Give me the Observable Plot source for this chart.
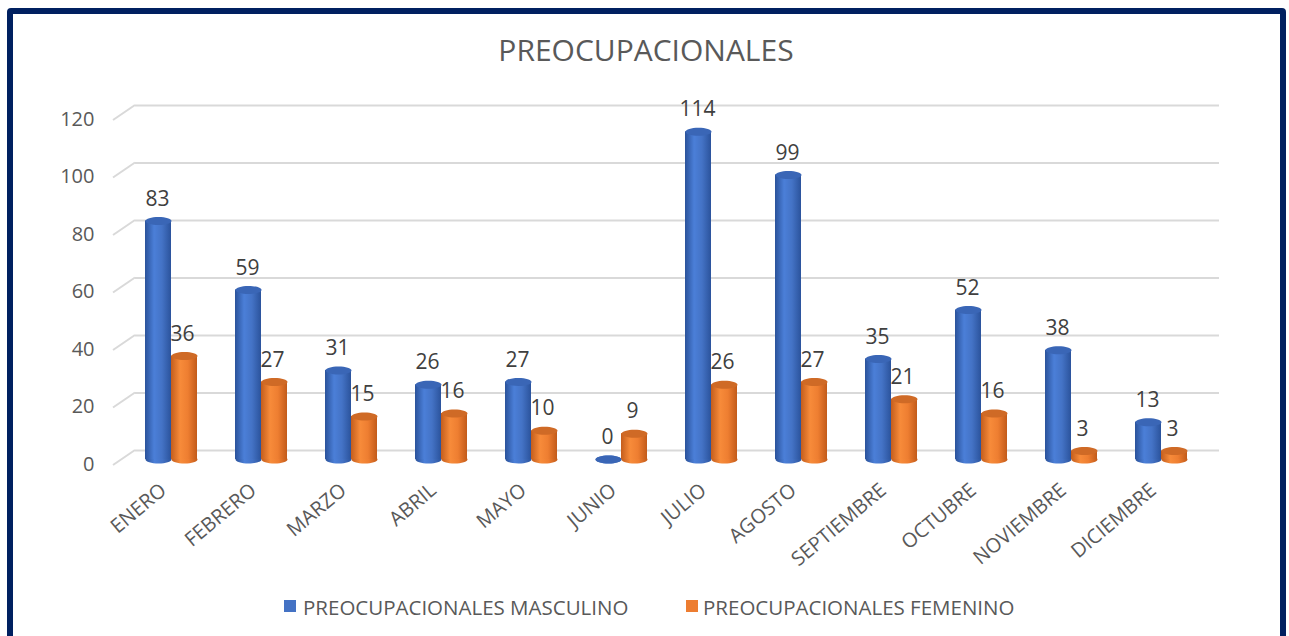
<!DOCTYPE html>
<html><head><meta charset="utf-8">
<script src="https://cdn.jsdelivr.net/npm/d3@7"></script>
<script src="https://cdn.jsdelivr.net/npm/@observablehq/plot@0.6"></script>
<style>
html,body{margin:0;padding:0;background:#fff;}
#wrap{position:relative;width:1289px;height:636px;overflow:hidden;font-family:"Open Sans",sans-serif;}
#frame{position:absolute;left:7px;top:8px;width:1279px;height:680px;border:6px solid #002060;box-sizing:border-box;border-radius:4px;}
#chart{position:absolute;left:0;top:0;}
#title{position:absolute;left:0;top:35px;width:1292px;text-align:center;font-size:30px;line-height:1;color:#595959;}
.lg-sq{position:absolute;width:12px;height:12px;top:600px;}
.lg-tx{position:absolute;top:597px;font-size:20.5px;line-height:1;color:#595959;white-space:nowrap;}
</style>
</head><body>
<svg width="0" height="0" style="position:absolute">
  <defs>
    <linearGradient id="gBlue" x1="0" x2="1" y1="0" y2="0">
      <stop offset="0" stop-color="#2a529a"/>
      <stop offset="0.35" stop-color="#4b7fd8"/>
      <stop offset="0.65" stop-color="#4473c6"/>
      <stop offset="1" stop-color="#2b539c"/>
    </linearGradient>
    <linearGradient id="gOrange" x1="0" x2="1" y1="0" y2="0">
      <stop offset="0" stop-color="#c45d1c"/>
      <stop offset="0.35" stop-color="#f78b3a"/>
      <stop offset="0.65" stop-color="#ee7e31"/>
      <stop offset="1" stop-color="#c25b1a"/>
    </linearGradient>
  </defs>
</svg>
<div id="wrap">
  <div id="chart"></div>
  <div id="frame"></div>
  <div id="title">PREOCUPACIONALES</div>
  <div class="lg-sq" style="left:284px;background:#4472c4"></div>
  <div class="lg-tx" style="left:303px">PREOCUPACIONALES MASCULINO</div>
  <div class="lg-sq" style="left:686px;background:#ed7d31"></div>
  <div class="lg-tx" style="left:703px">PREOCUPACIONALES FEMENINO</div>
</div>
<script>
const months = ["ENERO","FEBRERO","MARZO","ABRIL","MAYO","JUNIO","JULIO","AGOSTO","SEPTIEMBRE","OCTUBRE","NOVIEMBRE","DICIEMBRE"];
const masculino = [83,59,31,26,27,0,114,99,35,52,38,13];
const femenino = [36,27,15,16,10,9,26,27,21,16,3,3];
const yTicks = [0,20,40,60,80,100,120];

const rowsM = months.map((m, i) => ({month: m, value: masculino[i]}));
const rowsF = months.map((m, i) => ({month: m, value: femenino[i]}));

const ellipse = {
  draw(ctx) {
    const rx = 13, ry = 4, k = 0.5523;
    ctx.moveTo(rx, 0);
    ctx.bezierCurveTo(rx, ry * k, rx * k, ry, 0, ry);
    ctx.bezierCurveTo(-rx * k, ry, -rx, ry * k, -rx, 0);
    ctx.bezierCurveTo(-rx, -ry * k, -rx * k, -ry, 0, -ry);
    ctx.bezierCurveTo(rx * k, -ry, rx, -ry * k, rx, 0);
    ctx.closePath();
  }
};

function depthTicks(index, scales, values, dims) {
  const g = d3.create("svg:g");
  for (const t of yTicks) {
    const y = scales.y(t);
    g.append("line")
      .attr("x1", dims.marginLeft - 11).attr("x2", dims.marginLeft + 11)
      .attr("y1", y + 6).attr("y2", y - 9)
      .attr("stroke", "#d9d9d9").attr("stroke-width", 2);
  }
  return g.node();
}

function cylinder(rows, grad, cap, side) {
  const off = side * 13;
  return [
    Plot.dot(rows, {x: "month", y: () => 0, symbol: ellipse, r: 5, fill: grad, stroke: "none", dx: off}),
    Plot.barY(rows, {x: "month", y: "value", fill: grad,
      insetLeft: side < 0 ? 0 : 26, insetRight: side < 0 ? 26 : 0}),
    Plot.dot(rows, {x: "month", y: "value", symbol: ellipse, r: 5, fill: cap, stroke: "none", dx: off})
  ];
}

const chart = Plot.plot({
  width: 1289,
  height: 636,
  marginLeft: 124,
  marginRight: 81,
  marginTop: 114,
  marginBottom: 177,
  style: {fontFamily: "'Open Sans', sans-serif", background: "transparent"},
  x: {type: "band", domain: months, paddingInner: 0.4245, paddingOuter: 0.2122, label: null},
  y: {domain: [0, 120], label: null},
  marks: [
    Plot.ruleY(yTicks, {stroke: "#d9d9d9", strokeWidth: 2, dx: 11, dy: -9}),
    depthTicks,
    Plot.axisY({ticks: yTicks, tickSize: 0, tickPadding: 30, dy: 5, fontSize: 20, fill: "#595959", label: null}),
    Plot.axisX({tickSize: 0, tickRotate: -40, tickPadding: 28, dx: -8, fontSize: 20, fill: "#595959", label: null}),
    ...cylinder(rowsM, "url(#gBlue)", "#3a66b6", -1),
    ...cylinder(rowsF, "url(#gOrange)", "#cf6a26", 1),
    Plot.text(rowsM, {x: "month", y: "value", text: d => String(d.value), dx: -14, dy: -22, fontSize: 21, fill: "#404040"}),
    Plot.text(rowsF, {x: "month", y: "value", text: d => String(d.value), dx: 11, dy: -22, fontSize: 21, fill: "#404040"})
  ]
});
document.getElementById("chart").appendChild(chart);
</script>
</body></html>
